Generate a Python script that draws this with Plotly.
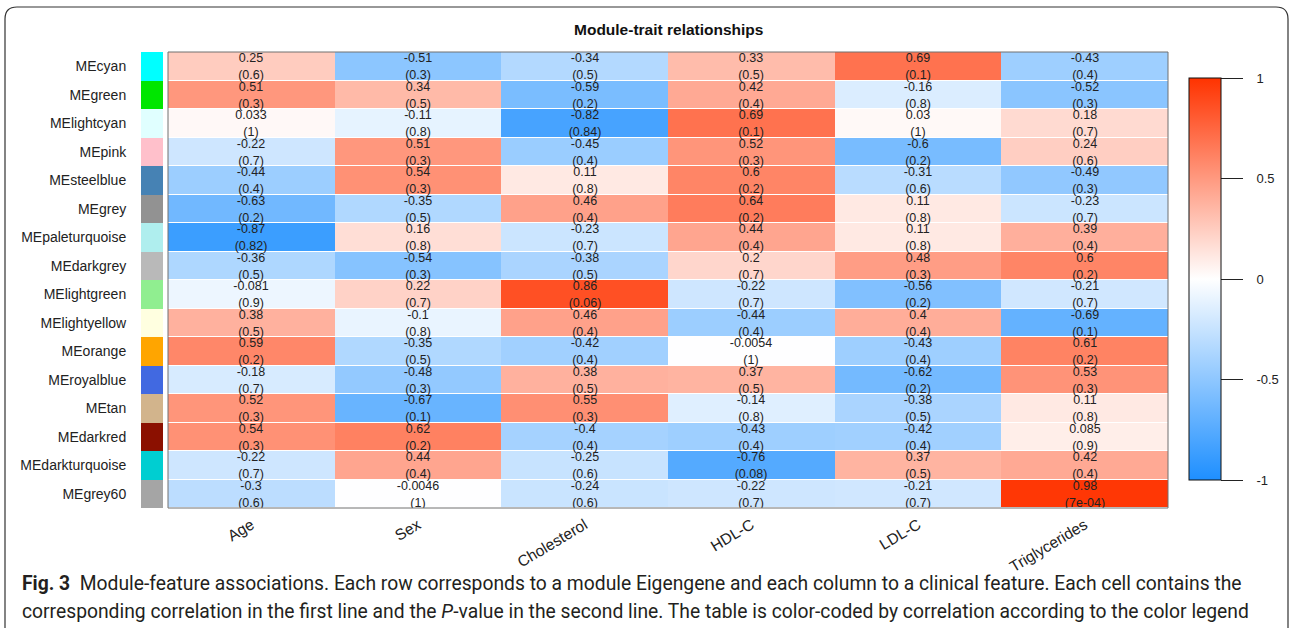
import plotly.graph_objects as go

W, H = 1290, 628

modules = [
    "MEcyan", "MEgreen", "MElightcyan", "MEpink", "MEsteelblue", "MEgrey",
    "MEpaleturquoise", "MEdarkgrey", "MElightgreen", "MElightyellow",
    "MEorange", "MEroyalblue", "MEtan", "MEdarkred", "MEdarkturquoise", "MEgrey60",
]
module_colors = [
    "#00FFFF", "#00E600", "#E0FFFF", "#FFC0CB", "#4682B4", "#929292",
    "#AFEEEE", "#B9B9B9", "#90EE90", "#FFFFE0",
    "#FFA500", "#4169E1", "#D2B48C", "#8B1000", "#00CED1", "#A5A5A5",
]
traits = ["Age", "Sex", "Cholesterol", "HDL-C", "LDL-C", "Triglycerides"]

# correlation of each module eigengene with each clinical trait
cor = [
    [0.25, -0.51, -0.34, 0.33, 0.69, -0.43],
    [0.51, 0.34, -0.59, 0.42, -0.16, -0.52],
    [0.033, -0.11, -0.82, 0.69, 0.03, 0.18],
    [-0.22, 0.51, -0.45, 0.52, -0.6, 0.24],
    [-0.44, 0.54, 0.11, 0.6, -0.31, -0.49],
    [-0.63, -0.35, 0.46, 0.64, 0.11, -0.23],
    [-0.87, 0.16, -0.23, 0.44, 0.11, 0.39],
    [-0.36, -0.54, -0.38, 0.2, 0.48, 0.6],
    [-0.081, 0.22, 0.86, -0.22, -0.56, -0.21],
    [0.38, -0.1, 0.46, -0.44, 0.4, -0.69],
    [0.59, -0.35, -0.42, -0.0054, -0.43, 0.61],
    [-0.18, -0.48, 0.38, 0.37, -0.62, 0.53],
    [0.52, -0.67, 0.55, -0.14, -0.38, 0.11],
    [0.54, 0.62, -0.4, -0.43, -0.42, 0.085],
    [-0.22, 0.44, -0.25, -0.76, 0.37, 0.42],
    [-0.3, -0.0046, -0.24, -0.22, -0.21, 0.98],
]
# P-values as printed
pval = [
    ["0.6", "0.3", "0.5", "0.5", "0.1", "0.4"],
    ["0.3", "0.5", "0.2", "0.4", "0.8", "0.3"],
    ["1", "0.8", "0.84", "0.1", "1", "0.7"],
    ["0.7", "0.3", "0.4", "0.3", "0.2", "0.6"],
    ["0.4", "0.3", "0.8", "0.2", "0.6", "0.3"],
    ["0.2", "0.5", "0.4", "0.2", "0.8", "0.7"],
    ["0.82", "0.8", "0.7", "0.4", "0.8", "0.4"],
    ["0.5", "0.3", "0.5", "0.7", "0.3", "0.2"],
    ["0.9", "0.7", "0.06", "0.7", "0.2", "0.7"],
    ["0.5", "0.8", "0.4", "0.4", "0.4", "0.1"],
    ["0.2", "0.5", "0.4", "1", "0.4", "0.2"],
    ["0.7", "0.3", "0.5", "0.5", "0.2", "0.3"],
    ["0.3", "0.1", "0.3", "0.8", "0.5", "0.8"],
    ["0.3", "0.2", "0.4", "0.4", "0.4", "0.9"],
    ["0.7", "0.4", "0.6", "0.08", "0.5", "0.4"],
    ["0.6", "1", "0.6", "0.7", "0.7", "7e-04"],
]

cbar_ticks = [-1, -0.5, 0, 0.5, 1]
cbar_labels = ["-1", "-0.5", "0", "0.5", "1"]

cell_text = [
    [f"{c}<br>({p})" for c, p in zip(crow, prow)]
    for crow, prow in zip(cor, pval)
]

FONT = "Arial, Liberation Sans, Helvetica, sans-serif"
CAPTION_FONT = "Roboto, Open Sans, sans-serif"
PAD = "\u00a0\u00a0\u00a0"


def px_x(v):
    return v / W


def px_y(v):
    return 1 - v / H


fig = go.Figure()

fig.add_trace(go.Heatmap(
    z=cor, x=traits, y=modules,
    zmin=-1, zmax=1,
    colorscale=[[0, "#1E8FFF"], [0.5, "#FFFFFF"], [1, "#FF3300"]],
    text=cell_text, texttemplate="%{text}",
    textfont=dict(family=FONT, size=12.5, color="#222222"),
    ygap=1,
    hoverinfo="skip",
    colorbar=dict(
        x=px_x(1189), xanchor="left", xpad=0,
        y=px_y(78), yanchor="top", ypad=0,
        lenmode="pixels", len=402, thickness=32,
        outlinecolor="#111111", outlinewidth=1,
        tickmode="array", tickvals=cbar_ticks,
        ticktext=[PAD + t for t in cbar_labels],
        ticks="outside", ticklen=22, tickwidth=1, tickcolor="#222222",
        tickfont=dict(family=FONT, size=13, color="#222222"),
    ),
))

# module colour strip beside the row labels
fig.add_trace(go.Bar(
    x=[1] * len(modules), y=modules, orientation="h",
    marker=dict(color=module_colors, line=dict(width=0)),
    width=1, xaxis="x2", yaxis="y",
    hoverinfo="skip", showlegend=False,
))

fig.update_layout(
    width=W, height=H,
    margin=dict(l=0, r=0, t=0, b=0),
    paper_bgcolor="white", plot_bgcolor="white",
    bargap=0,
    showlegend=False,
    xaxis=dict(
        domain=[px_x(168), px_x(1168)], anchor="y",
        showgrid=False, zeroline=False,
        ticks="outside", ticklen=1, tickcolor="rgba(0,0,0,0)",
        tickangle=-31,
        tickfont=dict(family=FONT, size=15.5, color="#222222"),
    ),
    xaxis2=dict(
        domain=[px_x(141), px_x(163)], anchor="y",
        range=[0, 1], visible=False,
    ),
    yaxis=dict(
        domain=[px_y(508), px_y(52)],
        anchor="free", position=px_x(141),
        autorange="reversed",
        showgrid=False, zeroline=False,
        ticks="outside", ticklen=12, tickcolor="rgba(0,0,0,0)",
        tickfont=dict(family=FONT, size=14, color="#222222"),
    ),
    shapes=[
        dict(type="rect", xref="x domain", yref="y domain",
             x0=0, x1=1, y0=0, y1=1,
             line=dict(color="#707070", width=1), fillcolor="rgba(0,0,0,0)"),
        dict(type="path", xref="paper", yref="paper",
             path=(f"M {px_x(5)},{px_y(660)} L {px_x(5)},{px_y(19)} "
                   f"Q {px_x(5)},{px_y(7)} {px_x(17)},{px_y(7)} "
                   f"L {px_x(1276)},{px_y(7)} "
                   f"Q {px_x(1288)},{px_y(7)} {px_x(1288)},{px_y(19)} "
                   f"L {px_x(1288)},{px_y(660)}"),
             line=dict(color="#333333", width=1.2)),
    ],
    annotations=[
        dict(text="<b>Module-trait relationships</b>",
             xref="paper", yref="paper", x=px_x(668), y=px_y(30),
             xanchor="center", yanchor="middle", showarrow=False,
             font=dict(family=FONT, size=15.5, color="#111111")),
        dict(text=("<b>Fig. 3</b>  Module-feature associations. Each row corresponds to a module "
                   "Eigengene and each column to a clinical feature. Each cell contains the"),
             xref="paper", yref="paper", x=px_x(20), y=px_y(583),
             xanchor="left", yanchor="middle", showarrow=False,
             font=dict(family=CAPTION_FONT, size=19.3, color="#231F20")),
        dict(text=("corresponding correlation in the first line and the <i>P</i>-value in the "
                   "second line. The table is color-coded by correlation according to the color legend"),
             xref="paper", yref="paper", x=px_x(20), y=px_y(611),
             xanchor="left", yanchor="middle", showarrow=False,
             font=dict(family=CAPTION_FONT, size=19.3, color="#231F20")),
    ],
)

fig.write_html("out.html")
